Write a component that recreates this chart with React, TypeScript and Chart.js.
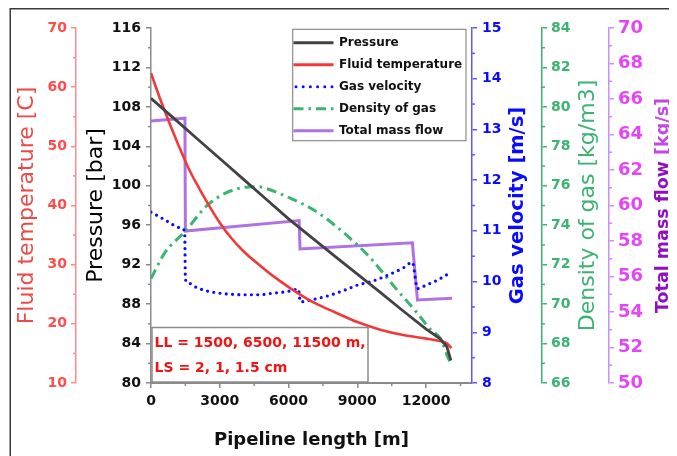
import { useEffect, useRef } from "react";
import { Chart, registerables } from "chart.js";

Chart.register(...registerables);

// Profiles along the pipeline, x in metres
const pressureX = [0, 1000, 2000, 3000, 4000, 5000, 6000, 7000, 8000, 9000, 10000, 11000, 12000, 12600, 12900, 13080];
const pressureBar = [108.87, 106.83, 104.8, 102.76, 100.73, 98.69, 96.65, 94.76, 92.9, 91.04, 89.2, 87.3, 85.47, 84.5, 83.7, 82.3];

const temperatureX = [0, 400, 800, 1200, 1600, 2000, 2500, 3000, 3500, 4000, 4800, 5600, 6400, 7200, 8000, 9000, 10000, 11000, 12000, 12600, 12900, 13100];
const temperatureC = [62.4, 58.0, 54.0, 50.2, 46.6, 43.6, 40.2, 37.1, 34.5, 32.4, 29.7, 27.3, 25.2, 23.4, 22.0, 20.3, 19.0, 18.1, 17.5, 17.1, 16.7, 15.9];

const velocityX = [0, 600, 1300, 1470, 1500, 1600, 2000, 2500, 3000, 3500, 4000, 4700, 5300, 5900, 6440, 6470, 6510, 7000, 7800, 8500, 9000, 9600, 10400, 11000, 11400, 11620, 12000, 12500, 13100];
const velocityMs = [11.37, 11.22, 11.06, 10.98, 10.05, 9.98, 9.88, 9.81, 9.77, 9.75, 9.74, 9.74, 9.77, 9.8, 9.85, 9.72, 9.6, 9.64, 9.73, 9.84, 9.93, 10.0, 10.14, 10.27, 10.38, 9.86, 9.93, 10.03, 10.19];

const densityX = [0, 600, 1500, 2400, 3200, 4100, 4700, 5000, 6100, 7100, 8100, 9000, 9600, 10600, 11500, 12200, 12650, 12950, 13080];
const densityKgM3 = [71.3, 72.6, 73.7, 74.95, 75.6, 75.92, 75.95, 75.87, 75.36, 74.77, 73.92, 73.0, 72.3, 70.9, 69.7, 68.7, 68.2, 67.3, 67.0];

const massX = [0, 1480, 1500, 6460, 6500, 11400, 11620, 13130];
const massKgS = [64.76, 64.92, 58.56, 59.15, 57.55, 57.9, 54.68, 54.77];

// Axis tick labels
const lengthTicks = [0, 3000, 6000, 9000, 12000];
const lengthMinor = [1500, 4500, 7500, 10500, 13500];
const pressureTicks = [80, 84, 88, 92, 96, 100, 104, 108, 112, 116];
const temperatureTicks = [10, 20, 30, 40, 50, 60, 70];
const velocityTicks = [8, 9, 10, 11, 12, 13, 14, 15];
const densityTicks = [66, 68, 70, 72, 74, 76, 78, 80, 82, 84];
const massTicks = [50, 52, 54, 56, 58, 60, 62, 64, 66, 68, 70];

const legendLabels = ["Pressure", "Fluid temperature", "Gas velocity", "Density of gas", "Total mass flow"];
const noteLines = ["LL = 1500, 6500, 11500 m,", "LS = 2, 1, 1.5 cm"];

const FONT = "'DejaVu Sans', sans-serif";

const C = {
  pressure: "#424242",
  temperature: "#f03a3a",
  velocity: "#0a0aff",
  density: "#3cb371",
  mass: "#b072e2",
};

const midpoints = (arr: number[]) => arr.slice(1).map((v, i) => (v + arr[i]) / 2);

function toPoints(xs: number[], ys: number[]) {
  return xs.map((x, i) => ({ x, y: ys[i] }));
}

function yAxis(o: any) {
  return {
    type: "linear",
    position: o.position,
    min: o.min,
    max: o.max,
    weight: o.weight,
    afterBuildTicks: (s: any) => {
      s.ticks = o.ticks.map((v: number) => ({ value: v }));
    },
    afterFit: (s: any) => {
      s.width = o.width;
    },
    grid: { drawOnChartArea: false, drawTicks: true, tickLength: 5, color: o.line, lineWidth: 1.5 },
    border: { display: true, color: o.line, width: 1.5 },
    ticks: {
      color: o.color,
      padding: o.padding,
      autoSkip: false,
      font: { family: FONT, size: o.size, weight: "bold" },
      callback: (v: number) => String(v),
    },
    title: { display: false },
  };
}

const minorSpec: Record<string, { values: number[]; color: string }> = {
  x: { values: lengthMinor, color: "#8a8a8a" },
  yP: { values: midpoints(pressureTicks), color: "#8a8a8a" },
  yT: { values: midpoints(temperatureTicks), color: "#ff8a8a" },
  yV: { values: midpoints(velocityTicks), color: "#5a5aff" },
  yD: { values: midpoints(densityTicks), color: "#3cb371" },
  yM: { values: midpoints(massTicks), color: "#c890f2" },
};

function drawVerticalTitle(ctx: CanvasRenderingContext2D, cx: number, cy: number, parts: { text: string; color: string }[], font: string) {
  ctx.save();
  ctx.translate(cx, cy);
  ctx.rotate(-Math.PI / 2);
  ctx.font = font;
  ctx.textBaseline = "middle";
  ctx.textAlign = "left";
  const widths = parts.map((p) => ctx.measureText(p.text).width);
  let x = -widths.reduce((a, b) => a + b, 0) / 2;
  parts.forEach((p, i) => {
    ctx.fillStyle = p.color;
    ctx.fillText(p.text, x, 0);
    x += widths[i];
  });
  ctx.restore();
}

const decorations = {
  id: "decorations",
  afterDatasetsDraw(chart: any) {
    const ctx: CanvasRenderingContext2D = chart.ctx;
    const ca = chart.chartArea;

    // note box in the lower-left corner of the plot
    ctx.save();
    const nx0 = ca.left + 1, ny0 = 319.5, nx1 = 360, ny1 = ca.bottom - 1;
    ctx.fillStyle = "#ffffff";
    ctx.fillRect(nx0, ny0, nx1 - nx0, ny1 - ny0);
    ctx.strokeStyle = "#8c8c8c";
    ctx.lineWidth = 1.5;
    ctx.strokeRect(nx0, ny0, nx1 - nx0, ny1 - ny0);
    ctx.fillStyle = "#f01414";
    ctx.font = `bold 14px ${FONT}`;
    ctx.textBaseline = "middle";
    ctx.textAlign = "left";
    ctx.fillText(noteLines[0], nx0 + 2.5, 335);
    ctx.fillText(noteLines[1], nx0 + 2.5, 360.5);
    ctx.restore();

    // legend
    ctx.save();
    const lx0 = 284.7, ly0 = 21.3, lx1 = 458, ly1 = 132.7;
    ctx.fillStyle = "#ffffff";
    ctx.fillRect(lx0, ly0, lx1 - lx0, ly1 - ly0);
    ctx.strokeStyle = "#8c8c8c";
    ctx.lineWidth = 1.2;
    ctx.strokeRect(lx0, ly0, lx1 - lx0, ly1 - ly0);
    const styles = [
      { color: C.pressure, dash: [] as number[], cap: "butt" },
      { color: C.temperature, dash: [], cap: "butt" },
      { color: C.velocity, dash: [0, 7.2], cap: "round" },
      { color: C.density, dash: [10, 5, 2.5, 5], cap: "butt" },
      { color: C.mass, dash: [], cap: "butt" },
    ];
    legendLabels.forEach((label, i) => {
      const y = 34.7 + i * 22;
      const st = styles[i];
      ctx.beginPath();
      ctx.setLineDash(st.dash);
      ctx.lineCap = st.cap as CanvasLineCap;
      ctx.strokeStyle = st.color;
      ctx.lineWidth = 3;
      ctx.moveTo(i === 2 ? 288 : 285.5, y);
      ctx.lineTo(325.5, y);
      ctx.stroke();
      ctx.setLineDash([]);
      ctx.fillStyle = "#111111";
      ctx.font = `bold 12px ${FONT}`;
      ctx.textBaseline = "middle";
      ctx.textAlign = "left";
      ctx.fillText(label, 331, y + 0.5);
    });
    ctx.restore();
  },
  afterDraw(chart: any) {
    const ctx: CanvasRenderingContext2D = chart.ctx;
    const ca = chart.chartArea;

    // minor tick marks
    ctx.save();
    ctx.lineWidth = 1.5;
    Object.keys(minorSpec).forEach((id) => {
      const s = chart.scales[id];
      const spec = minorSpec[id];
      ctx.strokeStyle = spec.color;
      spec.values.forEach((v) => {
        const p = s.getPixelForValue(v);
        ctx.beginPath();
        if (id === "x") {
          ctx.moveTo(p, s.top);
          ctx.lineTo(p, s.top + 3);
        } else if (s.position === "left") {
          ctx.moveTo(s.right, p);
          ctx.lineTo(s.right - 3, p);
        } else {
          ctx.moveTo(s.left, p);
          ctx.lineTo(s.left + 3, p);
        }
        ctx.stroke();
      });
    });
    ctx.restore();

    // axis titles
    const cy = (ca.top + ca.bottom) / 2;
    drawVerticalTitle(ctx, 19, cy, [{ text: "Fluid temperature [C]", color: "#f04848" }], `22px ${FONT}`);
    drawVerticalTitle(ctx, 88, cy, [{ text: "Pressure [bar]", color: "#000000" }], `22px ${FONT}`);
    drawVerticalTitle(ctx, 510, cy, [{ text: "Gas velocity [m/s]", color: "#0a0aff" }], `bold 19.5px ${FONT}`);
    drawVerticalTitle(ctx, 580, cy, [{ text: "Density of gas [kg/m3]", color: "#3cb371" }], `22px ${FONT}`);
    drawVerticalTitle(
      ctx,
      655,
      cy,
      [
        { text: "Total mass flow ", color: "#9010c0" },
        { text: "[kg/s]", color: "#c448e6" },
      ],
      `bold 17.5px ${FONT}`
    );
    ctx.save();
    ctx.font = `bold 18px ${FONT}`;
    ctx.fillStyle = "#111111";
    ctx.textAlign = "center";
    ctx.textBaseline = "middle";
    ctx.fillText("Pipeline length [m]", (ca.left + ca.right) / 2, 432);
    ctx.restore();

    // outer frame
    ctx.save();
    ctx.strokeStyle = "#3a3a3a";
    ctx.lineWidth = 1.5;
    ctx.beginPath();
    ctx.moveTo(2.25, chart.height);
    ctx.lineTo(2.25, 0.75);
    ctx.lineTo(chart.width, 0.75);
    ctx.stroke();
    ctx.restore();
  },
};

export default function App() {
  const ref = useRef<HTMLCanvasElement | null>(null);

  useEffect(() => {
    if (!ref.current) return;
    const line = (label: string, pts: any[], axis: string, color: string, extra: any = {}) => ({
      label,
      data: pts,
      yAxisID: axis,
      borderColor: color,
      backgroundColor: color,
      borderWidth: 3,
      pointRadius: 0,
      fill: false,
      tension: 0,
      ...extra,
    });

    const chart = new Chart(ref.current, {
      type: "line",
      data: {
        datasets: [
          line("Pressure", toPoints(pressureX, pressureBar), "yP", C.pressure, { borderWidth: 2.8 }),
          line("Fluid temperature", toPoints(temperatureX, temperatureC), "yT", C.temperature, { cubicInterpolationMode: "monotone", borderWidth: 2.6 }),
          line("Gas velocity", toPoints(velocityX, velocityMs), "yV", C.velocity, {
            cubicInterpolationMode: "monotone",
            borderDash: [0, 6.3],
            borderCapStyle: "round",
            borderWidth: 3.2,
          }),
          line("Density of gas", toPoints(densityX, densityKgM3), "yD", C.density, {
            cubicInterpolationMode: "monotone",
            borderDash: [10, 5, 2.5, 5],
          }),
          line("Total mass flow", toPoints(massX, massKgS), "yM", C.mass),
        ],
      },
      options: {
        animation: false,
        responsive: false,
        layout: { padding: { left: 0, right: 0, top: 20, bottom: 0 } },
        plugins: { legend: { display: false }, tooltip: { enabled: false } },
        scales: {
          x: {
            type: "linear",
            position: "bottom",
            min: 0,
            max: 14000,
            afterBuildTicks: (s: any) => {
              s.ticks = lengthTicks.map((v) => ({ value: v }));
            },
            afterFit: (s: any) => {
              s.height = 73;
            },
            grid: { drawOnChartArea: false, drawTicks: true, tickLength: 5, color: "#8a8a8a", lineWidth: 1.5 },
            border: { display: true, color: "#8a8a8a", width: 2 },
            ticks: {
              color: "#111111",
              padding: 5,
              autoSkip: false,
              maxRotation: 0,
              font: { family: FONT, size: 14, weight: "bold" },
              callback: (v: number) => String(v),
            },
          },
          yP: yAxis({ position: "left", min: 80, max: 116, weight: 0, ticks: pressureTicks, width: 75, padding: 5, color: "#111111", line: "#8a8a8a", size: 14 }),
          yT: yAxis({ position: "left", min: 10, max: 70, weight: 1, ticks: temperatureTicks, width: 68, padding: 4, color: "#ff4c4c", line: "#ff8a8a", size: 14 }),
          yV: yAxis({ position: "right", min: 8, max: 15, weight: 0, ticks: velocityTicks, width: 70, padding: 5, color: "#0a0aff", line: "#5a5aff", size: 14 }),
          yD: yAxis({ position: "right", min: 66, max: 84, weight: 1, ticks: densityTicks, width: 67, padding: 4, color: "#3cb371", line: "#3cb371", size: 14 }),
          yM: yAxis({ position: "right", min: 50, max: 70, weight: 2, ticks: massTicks, width: 68, padding: 4, color: "#e445f5", line: "#c890f2", size: 18 }),
        },
      } as any,
      plugins: [decorations],
    });
    return () => chart.destroy();
  }, []);

  return (
    <div style={{ width: 669, height: 448 }}>
      <canvas ref={ref} width={669} height={448} />
    </div>
  );
}
